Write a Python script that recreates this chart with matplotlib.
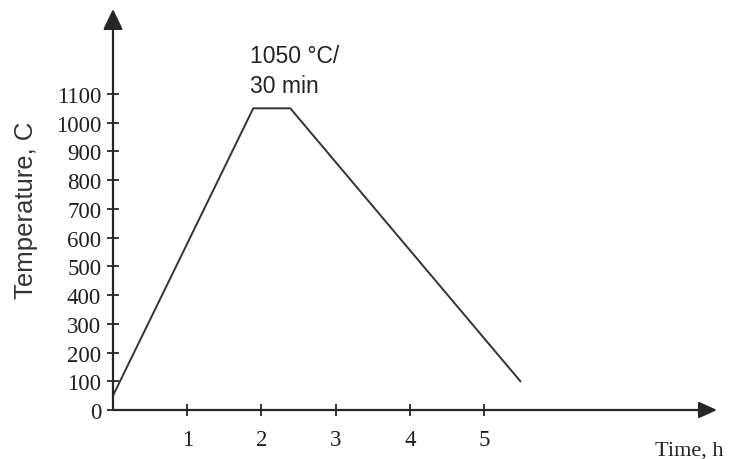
import matplotlib
matplotlib.use("Agg")
import matplotlib.pyplot as plt

# ---- data ----
time_h = [0.0, 1.89, 2.39, 5.49]
temp_c = [50, 1050, 1050, 100]
x_ticks = [1, 2, 3, 4, 5]
y_ticks = list(range(0, 1101, 100))
annotation = "1050 \u00b0C/\n30 min"
x_label = "Time, h"
y_label = "Temperature, C"

W, H, DPI = 733, 460, 100
fig = plt.figure(figsize=(W / DPI, H / DPI), dpi=DPI)
fig.patch.set_facecolor("white")

# pixel geometry of the axes
x0_px, y0_px = 113, 411       # data origin in pixels (from top-left)
unit_x = 74.2                  # px per hour
unit_y = 0.2873                # px per degree
right_px, top_px = 717, 10

ax = fig.add_axes([x0_px / W, (H - y0_px) / H,
                   (right_px - x0_px) / W, (y0_px - top_px) / H])
ax.set_xlim(0, (right_px - x0_px) / unit_x)
ax.set_ylim(0, (y0_px - top_px) / unit_y)
ax.patch.set_alpha(0)
for s in ax.spines.values():
    s.set_visible(False)

axis_col = "#262626"
# axis lines with arrowheads
ax.annotate("", xy=(1, 0), xytext=(0, 0), xycoords="axes fraction",
            arrowprops=dict(arrowstyle="-|>,head_length=1.1,head_width=0.5",
                            mutation_scale=10, lw=1.6, color=axis_col,
                            shrinkA=0, shrinkB=0), annotation_clip=False)
ax.annotate("", xy=(0, 1), xytext=(0, 0), xycoords="axes fraction",
            arrowprops=dict(arrowstyle="-|>,head_length=1.25,head_width=0.6",
                            mutation_scale=10, lw=1.6, color=axis_col,
                            shrinkA=0, shrinkB=0), annotation_clip=False)

# data line
ax.plot(time_h, temp_c, color="#333333", lw=1.4, clip_on=False,
        solid_joinstyle="miter")

# ticks
ax.set_xticks(x_ticks)
ax.set_xticklabels([str(v) for v in x_ticks])
ax.set_yticks(y_ticks)
ax.set_yticklabels([str(v) for v in y_ticks])
ax.tick_params(axis="y", direction="inout", length=8, width=1.3,
               color=axis_col, pad=4.5, labelsize=16.5)
ax.tick_params(axis="x", direction="inout", length=9, width=1.3,
               color=axis_col, pad=9, labelsize=16.5)
for lab in ax.get_xticklabels() + ax.get_yticklabels():
    lab.set_fontfamily("Liberation Serif")
    lab.set_color("#1e1e1e")

# annotation near plateau
ax.text(1.85, (y0_px - 45) / unit_y, annotation, ha="left", va="top",
        fontsize=16.5, family="Liberation Sans", color="#222222",
        linespacing=1.4)

# axis labels
fig.text(26 / W, 1 - 210 / H, y_label, rotation=90, ha="center",
         va="center", fontsize=18.5, family="Liberation Sans",
         color="#333333")
fig.text(655 / W, (H - 456) / H, x_label, ha="left", va="baseline",
         fontsize=16, family="Liberation Serif", color="#222222")

fig.savefig("out.png", dpi=DPI)
